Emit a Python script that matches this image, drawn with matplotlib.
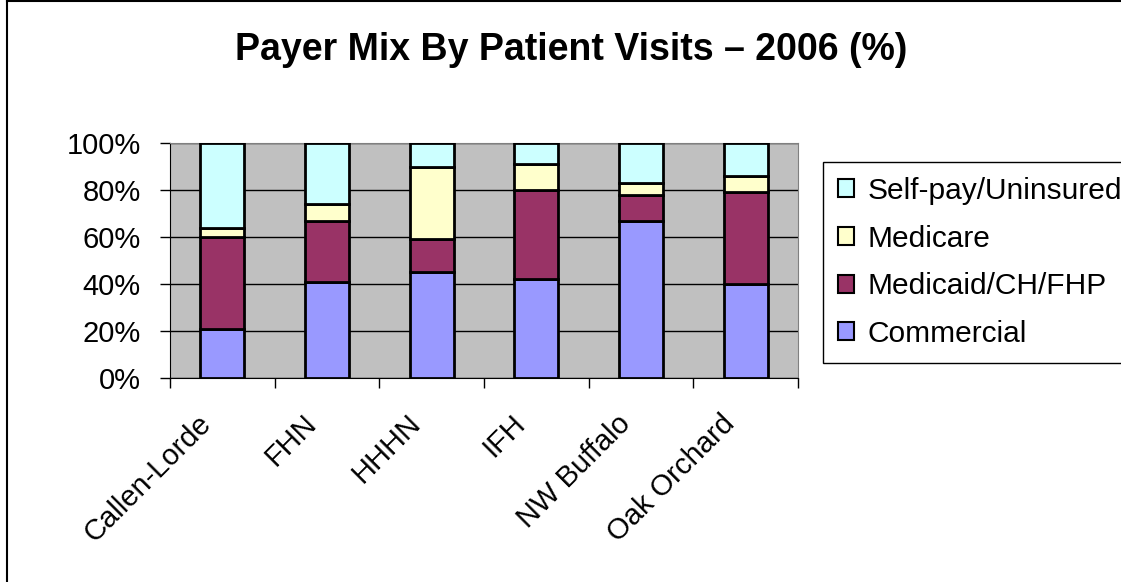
import matplotlib.pyplot as plt
import matplotlib.transforms as mtransforms
import numpy as np
from matplotlib.lines import Line2D
from matplotlib.patches import Patch

plt.rcParams['font.family'] = ['Liberation Sans', 'DejaVu Sans']

sites = ['Callen-Lorde', 'FHN', 'HHHN', 'IFH', 'NW Buffalo', 'Oak Orchard']
commercial = [21, 41, 45, 42, 67, 40]
medicaid = [39, 26, 14, 38, 11, 39]
medicare = [4, 7, 31, 11, 5, 7]
selfpay = [36, 26, 10, 9, 17, 14]

series = [('Commercial', commercial, '#9999FF'),
          ('Medicaid/CH/FHP', medicaid, '#993366'),
          ('Medicare', medicare, '#FFFFCC'),
          ('Self-pay/Uninsured', selfpay, '#CCFFFF')]

fig = plt.figure(figsize=(11.21, 5.82), dpi=100)
ax = fig.add_axes([170/1121, 1-378/582, 628/1121, 235/582])
ax.set_facecolor('#C0C0C0')

x = np.arange(len(sites))
bottom = np.zeros(len(sites))
for name, vals, col in series:
    ax.bar(x, vals, width=0.42, bottom=bottom, color=col, edgecolor='black',
           linewidth=2, zorder=3)
    bottom += np.array(vals)

ax.set_xlim(-0.5, len(sites) - 0.5)
ax.set_ylim(0, 100)
ax.set_yticks(range(0, 101, 20))
ax.set_yticklabels([f'{v}%' for v in range(0, 101, 20)], fontsize=21)
ax.yaxis.grid(True, color='black', linewidth=1, zorder=1)
ax.set_axisbelow(True)

# ticks between categories, labels at the centres
ax.set_xticks(np.arange(-0.5, len(sites)), minor=False)
ax.set_xticklabels([])
ax.set_xticks(x, minor=True)
ax.set_xticklabels(sites, minor=True, rotation=45, ha='right',
                   rotation_mode='anchor', fontsize=21)
ax.tick_params(axis='x', which='minor', length=0, pad=14)
ax.tick_params(axis='x', which='major', length=7, width=1, direction='out')
ax.tick_params(axis='y', length=7, width=1, direction='out', pad=14)

shift = mtransforms.ScaledTranslation(-25/100, -12/100, fig.dpi_scale_trans)
for lbl in ax.get_xticklabels(minor=True):
    lbl.set_transform(lbl.get_transform() + shift)

for s in ['top', 'right']:
    ax.spines[s].set_color('#808080')
for s in ['left', 'bottom']:
    ax.spines[s].set_color('black')

fig.text(571/1121, 1-60/582, 'Payer Mix By Patient Visits \u2013 2006 (%)',
         fontsize=27, fontweight='bold', ha='center', va='baseline')

handles = [Patch(facecolor=c, edgecolor='black', linewidth=1.5, label=n)
           for n, v, c in series[::-1]]
leg = fig.legend(handles=handles, loc='upper left',
                 bbox_to_anchor=(823/1121, 1-162/582), fontsize=21.5,
                 frameon=True, fancybox=False, edgecolor='black',
                 framealpha=1, handlelength=0.55, handleheight=0.55,
                 handletextpad=0.45, labelspacing=0.66, borderpad=0.5,
                 borderaxespad=0)
leg.get_frame().set_linewidth(1)

# chart border
fig.add_artist(Line2D([7/1121, 7/1121], [0, 1], color='black', linewidth=1.5))
fig.add_artist(Line2D([7/1121, 1], [1-1/582, 1-1/582], color='black', linewidth=1.5))

plt.savefig('out.png', dpi=100)
